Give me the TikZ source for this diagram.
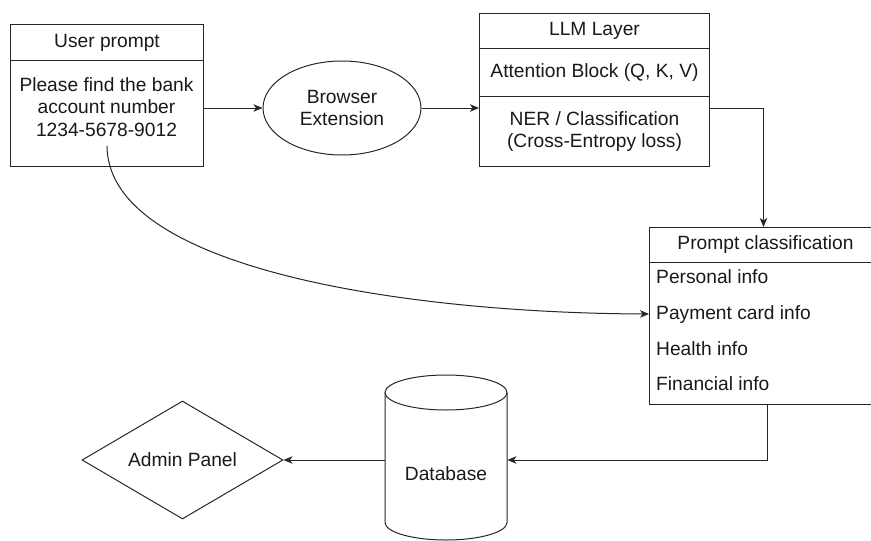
\documentclass[tikz,border=0pt]{standalone}
\usepackage{fontspec}
\setmainfont{Liberation Sans}
\usetikzlibrary{arrows.meta,shapes.geometric,calc}
\newcommand\dgfont{\fontsize{19.2}{22.5}\selectfont}
\begin{document}
\begin{tikzpicture}[x=1pt,y=-1pt,
  line/.style={draw=black!85,line width=1pt},
  arr/.style={line,-{Stealth[length=9pt,width=7.5pt,inset=2.5pt]}},
  cell/.style={line,rectangle,anchor=north west,inner sep=0pt,font=\dgfont,text=black!90},
  txt/.style={inner sep=0pt,font=\dgfont,text=black!90,align=center},
  item/.style={inner sep=0pt,font=\dgfont,text=black!90,anchor=west,text height=14pt,text depth=4pt}]
\useasboundingbox (0,0) rectangle (871,541);

% user prompt card
\node[cell,minimum width=193pt,minimum height=36pt] (uphead) at (10,24) {User prompt};
\node[cell,minimum width=193pt,minimum height=106pt] (upbody) at (10,60) {};
\node[txt] (uptext) at (106.5,107) {Please find the bank\\account number\\1234-5678-9012};

% browser extension
\node[line,ellipse,minimum width=158pt,minimum height=94pt,inner sep=0pt,
      font=\dgfont,text=black!90,align=center] (ext) at (342,108) {Browser\\Extension};

% LLM layer card
\node[cell,minimum width=230pt,minimum height=35pt] (llmhead) at (479,13) {LLM Layer};
\node[cell,minimum width=230pt,minimum height=48pt] (att) at (479,48) {Attention Block (Q, K, V)};
\node[cell,minimum width=230pt,minimum height=70pt,align=center] (ner) at (479,96)
  {NER / Classification\\[-0.5pt](Cross-Entropy loss)};

% prompt classification card
\node[cell,minimum width=236pt,minimum height=35pt] (pchead) at (649,227) {\hspace*{-4pt}Prompt classification};
\node[cell,minimum width=236pt,minimum height=142pt] (pcbody) at (649,262) {};
\node[item] (i1) at (656,278) {Personal info};
\node[item] (i2) at (656,314) {Payment card info};
\node[item] (i3) at (656,350) {Health info};
\node[item] (i4) at (656,385) {Financial info};

% database cylinder
\node[inner sep=0pt,anchor=north west,minimum width=122pt,minimum height=165pt] (db) at (385,375) {};
\draw[line] (446,392.5) ellipse [x radius=61pt,y radius=17.5pt];
\draw[line] (385,392.5) -- (385,522.5)
  arc[start angle=180,end angle=360,x radius=61pt,y radius=17.5pt] -- (507,392.5);
\node[txt] (dblabel) at (446,474) {Database};

% admin panel
\node[line,diamond,aspect=1.7,minimum width=201pt,minimum height=118pt,inner sep=0pt,
      font=\dgfont,text=black!90] (adm) at (182.5,460) {Admin Panel};

% connectors
\draw[arr] (upbody.east |- ext.west) -- (ext.west);
\draw[arr] (ext.east) -- (ext.east -| ner.west);
\draw[arr] (ext.east -| ner.east) -| ([xshift=-4pt]pchead.north);
\coordinate (cstart) at ([yshift=21pt]upbody.south);
\draw[arr] (cstart) .. controls (108,270) and (410,313) .. (i2.west -| pcbody.west);
\draw[arr] (pcbody.south) |- (db.east |- adm.east);
\draw[arr] (db.west |- adm.east) -- (adm.east);
\end{tikzpicture}
\end{document}
